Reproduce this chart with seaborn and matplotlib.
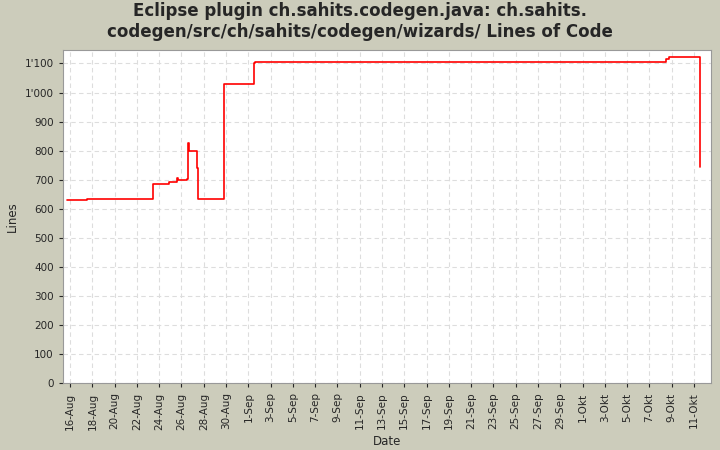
import matplotlib
matplotlib.use("Agg")
import matplotlib.pyplot as plt
import matplotlib.dates as mdates
from matplotlib.ticker import FuncFormatter, MultipleLocator, FixedLocator
import seaborn as sns
import pandas as pd

dates = ["2009-08-15 18:00", "2009-08-17 13:00", "2009-08-23 11:00", "2009-08-24 22:00",
         "2009-08-25 14:00", "2009-08-25 17:00", "2009-08-26 12:00", "2009-08-26 14:00",
         "2009-08-26 16:00", "2009-08-27 09:00", "2009-08-27 11:00", "2009-08-29 19:00",
         "2009-09-01 12:00", "2009-09-01 15:00", "2009-10-08 12:00", "2009-10-08 19:00",
         "2009-10-11 12:00", "2009-10-11 12:30"]
lines = [631, 634, 686, 692, 705, 700, 703, 825, 800, 740, 635, 1030,
         1100, 1105, 1115, 1122, 1122, 745]

df = pd.DataFrame({"Date": pd.to_datetime(dates), "Lines": lines})

sns.set_style("white")
fig = plt.figure(figsize=(7.2, 4.5), dpi=100, facecolor="#CCCCBB")
ax = fig.add_axes([0.087, 0.148, 0.9, 0.742])
ax.set_facecolor("white")
sns.lineplot(data=df, x="Date", y="Lines", ax=ax, color="red", linewidth=1.2,
             drawstyle="steps-post", estimator=None)
ax.set_ylim(0, 1148)
ax.set_xlim(pd.Timestamp("2009-08-15 08:00"), pd.Timestamp("2009-10-12 12:00"))
ax.yaxis.set_major_locator(MultipleLocator(100))
ax.yaxis.set_major_formatter(FuncFormatter(lambda v, p: f"{int(v):,}".replace(",", "'")))
ticks = pd.date_range("2009-08-16", "2009-10-11", freq="2D")
ax.xaxis.set_major_locator(FixedLocator(mdates.date2num(ticks)))
ax.xaxis.set_major_formatter(FuncFormatter(
    lambda v, p: mdates.num2date(v).strftime("%-d-%b").replace("Oct", "Okt")))
plt.setp(ax.get_xticklabels(), rotation=90)
ax.tick_params(labelsize=7.5, length=3, direction="out", bottom=True, left=True)
ax.grid(True, color="#dddddd", linestyle=(0, (4, 3)), linewidth=0.8)
for s in ax.spines.values():
    s.set_color("#999999")
ax.set_xlabel("Date", fontsize=8.5)
ax.set_ylabel("Lines", fontsize=8.5)
fig.suptitle("Eclipse plugin ch.sahits.codegen.java: ch.sahits.\ncodegen/src/ch/sahits/codegen/wizards/ Lines of Code",
             fontsize=12, fontweight="bold", y=0.995)
fig.savefig("out.png", dpi=100, facecolor=fig.get_facecolor())
